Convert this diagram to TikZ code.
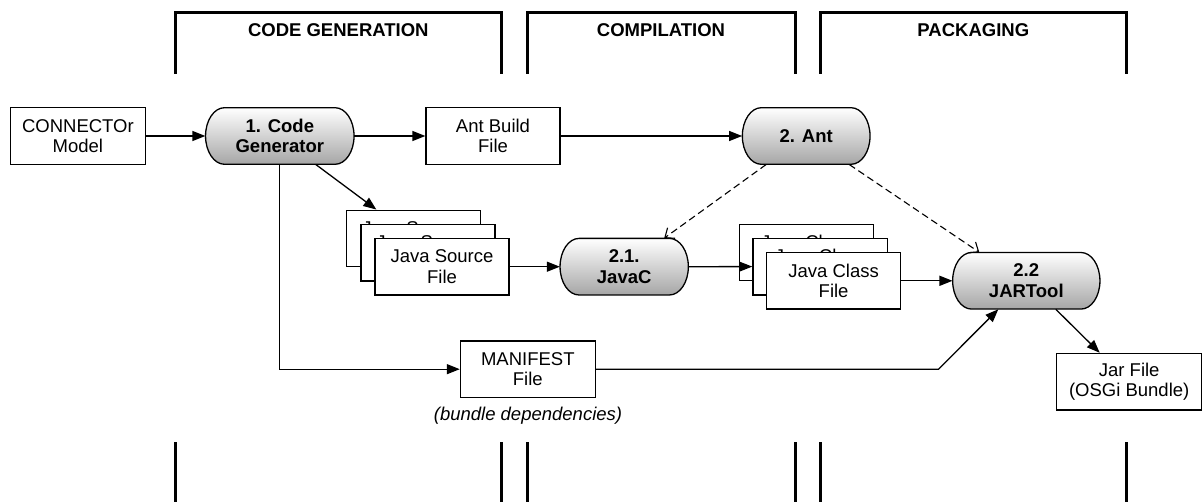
\documentclass[tikz,border=0pt]{standalone}
\usepackage{fontspec}
\setmainfont{Liberation Sans}
\usetikzlibrary{arrows.meta,calc}
\newcommand\bodyfont{\fontsize{18.5pt}{20.7pt}\selectfont}
\tikzset{
  fbox/.style={draw, line width=1.3pt, fill=white, minimum width=134pt, minimum height=56.6pt, inner sep=0pt, align=center, font=\bodyfont},
  captext/.style={inner sep=0pt, minimum height=56.6pt, align=center, font=\bodyfont\bfseries},
  capshade/.style={draw, line width=1.3pt, top color=white, bottom color=black!35},
  conn/.style={line width=1.3pt, -{Triangle[length=13pt,width=10pt]}},
  dconn/.style={line width=1.1pt, dash pattern=on 7pt off 4pt, -{Straight Barb[length=8pt,width=13pt]}},
  bracket/.style={line width=3pt},
  hdr/.style={font=\bodyfont\bfseries},
}
\newcommand\mycapsule[4]{%
  \shadedraw[capshade] ($(#2)+({-(#3)+19},-28.3)$) -- ($(#2)+({(#3)-19},-28.3)$)
    arc[start angle=90,end angle=-90,x radius=19pt,y radius=28.3pt]
    -- ($(#2)+({-(#3)+19},28.3)$)
    arc[start angle=270,end angle=90,x radius=19pt,y radius=28.3pt] -- cycle;
  \node[captext, minimum width={2*(#3)}] (#1) at (#2) {#4};
}
\begin{document}
\begin{tikzpicture}[x=1pt,y=-1pt]
\useasboundingbox (0,0) rectangle (1203,502);

% brackets
\draw[bracket] (175.3,74) -- (175.3,12.7) -- (501.3,12.7) -- (501.3,74);
\draw[bracket] (527,74) -- (527,12.7) -- (795,12.7) -- (795,74);
\draw[bracket] (820.5,74) -- (820.5,12.7) -- (1126.2,12.7) -- (1126.2,74);
\node[hdr] (h1) at (338.3,30) {CODE GENERATION};
\node[hdr] (h2) at (661,30) {COMPILATION};
\node[hdr] (h3) at (973.3,30) {PACKAGING};
\draw[bracket] (175.8,442.3) -- (175.8,502);
\draw[bracket] (501.3,442.3) -- (501.3,502);
\draw[bracket] (527,442.3) -- (527,502);
\draw[bracket] (795,442.3) -- (795,502);
\draw[bracket] (820.5,442.3) -- (820.5,502);
\draw[bracket] (1126.2,442.3) -- (1126.2,502);

% nodes
\node[fbox, minimum width=135pt] (model) at (77.9,136) {CONNECTOr\\Model};
\mycapsule{codegen}{279.8,136}{74.25}{1. Code\\Generator}
\node[fbox] (antbuild) at (493,136) {Ant Build\\File};
\mycapsule{ant}{806.2,136}{63.85}{2. Ant}

\node[fbox] (js1) at (413.7,238.5) {Java Source\\File};
\node[fbox] (js2) at (427.9,252.6) {Java Source\\File};
\node[fbox] (js3) at (442,266.7) {Java Source\\File};

\mycapsule{javac}{624.2,266.7}{64.15}{2.1.\\JavaC}

\node[fbox, minimum width=134.3pt] (jc1) at (806.3,252.5) {Java Class\\File};
\node[fbox, minimum width=134.3pt] (jc2) at (820,266.6) {Java Class\\File};
\node[fbox, minimum width=134.3pt] (jc3) at (833.6,280.8) {Java Class\\File};

\mycapsule{jartool}{1026.3,280.8}{73.65}{2.2\\JARTool}

\node[fbox, minimum width=145pt] (jar) at (1129.2,381.7) {Jar File\\(OSGi Bundle)};
\node[fbox, minimum width=134.7pt] (manifest) at (527.8,369.2) {MANIFEST\\File};
\node[font=\bodyfont\itshape] (note) at (528,415.7) {(bundle dependencies)};

% connectors
\draw[conn] (model.east) -- (codegen.west);
\draw[conn] (codegen.east) -- (antbuild.west);
\draw[conn] (antbuild.east) -- (ant.west);
\draw[conn] ([xshift=36pt]codegen.south) -- ([xshift=30.3pt]js1.north west);
\draw[conn] (js3.east) -- (javac.west);
\draw[conn] (javac.east) -- (jc2.west);
\draw[conn] (jc3.east) -- (jartool.west);
\draw[conn] (codegen.south) |- (manifest.west);
\coordinate (bend) at (938.5,369.2);
\draw[conn] (manifest.east) -- (bend) -- ([xshift=-28pt]jartool.south);
\draw[conn] ([xshift=29.5pt]jartool.south) -- ([xshift=-29.5pt]jar.north);
\draw[dconn] ([xshift=-40pt]ant.south) -- ([xshift=40pt]javac.north);
\draw[dconn] ([xshift=43pt]ant.south) -- ([xshift=-47pt]jartool.north);
\end{tikzpicture}
\end{document}
